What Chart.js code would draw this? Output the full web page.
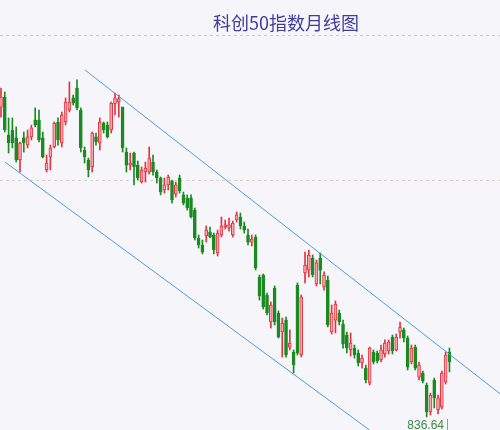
<!DOCTYPE html>
<html>
<head>
<meta charset="utf-8">
<script src="https://cdn.jsdelivr.net/npm/chart.js@4.4.1/dist/chart.umd.min.js"></script>
<style>
  html, body { margin: 0; padding: 0; background: #f5f5fa; }
  #wrap { width: 500px; height: 430px; position: relative; }
</style>
</head>
<body>
<div id="wrap"><canvas id="myChart"></canvas></div>
<script>
/* du lieu nen: gia mo, cao, thap, dong (theo thu tu phien) */
var title = "科创50指数月线图";

var openP = [
  1050.3, 1057.2, 1031.0, 1034.5, 1029.0, 1013.8, 1029.0, 1024.1, 1029.7, 1041.4,
  1041.4, 1029.0, 1006.9, 1015.9, 1022.8, 1040.0, 1025.5, 1040.0, 1048.3, 1056.6,
  1063.4, 1048.3, 1020.7, 1013.8, 1009.0, 1029.7, 1025.5, 1039.3, 1037.9, 1034.5,
  1052.4, 1053.8, 1050.3, 1019.3, 1010.3, 1018.6, 1010.3, 998.6, 1005.5, 1005.5,
  1012.4, 1005.5, 1001.4, 993.1, 996.6, 999.3, 990.3, 1001.4, 989.7, 987.6,
  987.6, 979.3, 960.0, 955.2, 961.4, 964.1, 962.1, 949.7, 962.1, 967.6,
  966.9, 962.1, 972.4, 974.5, 968.3, 962.1, 957.2, 960.7, 933.1, 934.5,
  920.7, 902.1, 925.5, 908.3, 895.2, 903.4, 884.8, 881.4, 927.6, 879.3,
  935.9, 937.9, 946.2, 928.3, 946.2, 926.2, 931.0, 895.2, 903.4, 908.3,
  900.7, 893.1, 882.8, 884.1, 880.7, 873.8, 870.3, 860.0, 881.4, 880.7,
  875.9, 880.0, 882.1, 891.7, 882.8, 895.2, 896.6, 891.0, 874.5, 884.8,
  864.1, 866.9, 858.6, 840.0, 862.1, 841.4, 843.4, 860.7, 881.4
];
var highP = [
  1063.4, 1060.7, 1042.8, 1042.8, 1036.6, 1026.2, 1033.1, 1034.5, 1037.9, 1049.7,
  1048.3, 1033.1, 1017.2, 1024.1, 1040.0, 1042.8, 1046.9, 1056.6, 1067.6, 1058.6,
  1069.0, 1049.7, 1022.8, 1015.2, 1033.1, 1032.4, 1042.8, 1040.0, 1040.0, 1053.8,
  1060.0, 1058.6, 1050.3, 1022.1, 1018.6, 1019.3, 1013.1, 1009.0, 1012.4, 1022.8,
  1017.2, 1006.9, 1002.1, 1001.4, 1003.4, 1000.0, 998.6, 1003.4, 991.7, 989.7,
  989.7, 980.7, 962.1, 958.6, 968.3, 967.6, 963.4, 965.5, 974.5, 972.4,
  973.8, 971.7, 977.9, 977.2, 971.0, 966.2, 962.1, 962.1, 934.5, 935.2,
  922.1, 915.9, 926.9, 909.7, 904.8, 905.5, 896.6, 882.8, 929.0, 920.7,
  950.3, 951.7, 948.3, 944.8, 949.7, 936.6, 933.8, 913.8, 916.6, 910.3,
  903.4, 895.2, 894.5, 886.2, 882.8, 879.3, 872.4, 884.8, 882.8, 882.1,
  886.2, 889.7, 889.7, 893.1, 893.8, 902.1, 897.9, 892.4, 886.2, 886.2,
  874.5, 868.3, 860.0, 853.1, 863.4, 851.7, 868.3, 881.4, 884.1
];
var lowP = [
  1043.4, 1033.1, 1018.6, 1022.1, 1012.4, 1005.5, 1019.3, 1022.1, 1027.6, 1036.6,
  1026.2, 1015.2, 1005.5, 1006.9, 1022.1, 1024.1, 1022.8, 1037.9, 1046.9, 1051.7,
  1048.3, 1019.3, 1011.7, 1002.1, 1005.5, 1024.1, 1020.7, 1032.4, 1029.0, 1032.4,
  1044.8, 1043.4, 1019.3, 1005.5, 1006.9, 996.6, 1000.0, 997.9, 998.6, 1004.1,
  1003.4, 997.9, 989.7, 991.0, 993.1, 984.1, 988.3, 991.0, 982.8, 979.3,
  973.8, 958.6, 953.1, 949.0, 957.2, 960.0, 949.0, 947.6, 960.7, 966.2,
  964.8, 960.7, 971.0, 966.2, 963.4, 955.2, 954.5, 937.9, 917.2, 911.0,
  906.9, 897.9, 900.0, 891.0, 877.9, 877.9, 882.8, 866.9, 879.3, 877.9,
  929.0, 933.1, 933.1, 926.9, 928.3, 924.1, 898.6, 893.8, 894.5, 900.0,
  884.1, 880.7, 878.6, 877.2, 871.7, 870.3, 860.0, 858.6, 873.1, 873.8,
  874.5, 877.9, 880.0, 880.0, 882.1, 891.0, 888.3, 869.0, 873.1, 869.0,
  862.1, 860.0, 836.64, 837.9, 842.8, 838.6, 842.1, 859.3, 867.6
];
var closeP = [
  1057.2, 1034.5, 1025.5, 1025.5, 1013.8, 1025.5, 1025.5, 1029.7, 1035.9, 1037.9,
  1027.6, 1015.9, 1011.7, 1022.1, 1039.3, 1027.6, 1044.8, 1053.8, 1053.8, 1053.1,
  1049.7, 1022.1, 1015.9, 1006.9, 1032.4, 1026.2, 1040.0, 1034.5, 1029.7, 1053.1,
  1056.6, 1055.9, 1022.1, 1010.3, 1011.7, 1009.0, 1001.4, 1006.9, 1008.3, 1015.2,
  1005.5, 1001.4, 991.7, 996.6, 1002.1, 986.2, 996.6, 992.4, 984.1, 980.7,
  974.5, 960.0, 955.2, 950.3, 965.5, 960.7, 951.7, 963.4, 968.3, 969.0,
  969.0, 970.3, 975.9, 968.3, 965.5, 957.2, 959.3, 939.3, 920.0, 912.4,
  908.3, 913.8, 902.1, 891.7, 901.4, 879.3, 887.6, 872.4, 880.7, 919.3,
  941.4, 948.3, 934.5, 942.8, 937.9, 934.5, 900.0, 908.3, 914.5, 902.1,
  886.9, 884.1, 887.6, 879.3, 873.8, 877.2, 862.1, 884.1, 874.5, 875.2,
  882.8, 887.6, 888.3, 882.1, 891.7, 898.6, 891.0, 871.0, 884.1, 870.3,
  872.4, 861.4, 840.0, 851.7, 849.7, 849.7, 866.9, 879.3, 874.5
];

/* kenh giam: diem dau va diem cuoi */
var upperX = [22.1, 131.3];
var upperY = [1075.9, 852.6];
var lowerX = [1.05, 99.7];
var lowerY = [1012.4, 822.3];

var gridLevels = [1000, 1100];

var upColor = "#e5323f";
var upFill = "#f5a9b0";
var downColor = "#1b8a22";

var bodies = [], wicks = [];
for (var i = 0; i < openP.length; i++) {
  bodies.push({x: i, y: [openP[i], closeP[i]]});
  wicks.push({x: i, y: [lowP[i], highP[i]]});
}
function isUp(i) { return closeP[i] >= openP[i]; }

var textPlugin = {
  id: 'texts',
  afterDraw: function(chart) {
    var ctx = chart.ctx;
    ctx.save();
    ctx.font = '18px "Noto Sans CJK SC"';
    ctx.fillStyle = "#3d3d9c";
    ctx.textAlign = "center";
    ctx.textBaseline = "middle";
    ctx.fillText(title, 286, 23);

    // nhan gia thap nhat
    var lo = Math.min.apply(null, lowP);
    var li = lowP.indexOf(lo);
    var px = chart.scales.x.getPixelForValue(li);
    var py = chart.scales.y.getPixelForValue(lo);
    ctx.font = '12px "Liberation Sans"';
    ctx.fillStyle = "#3a8c45";
    ctx.textBaseline = "top";
    ctx.fillText(lo.toFixed(2), px - 1, py + 3);
    ctx.strokeStyle = "#9a9a9a";
    ctx.lineWidth = 1;
    ctx.beginPath();
    ctx.moveTo(Math.round(px + 20) + 0.5, py + 2);
    ctx.lineTo(Math.round(px + 20) + 0.5, py + 14);
    ctx.stroke();
    ctx.restore();
  }
};

new Chart("myChart", {
  type: "bar",
  data: {
    datasets: [{
      data: bodies,
      grouped: false,
      barThickness: 3,
      minBarLength: 1,
      borderWidth: 1,
      borderSkipped: false,
      backgroundColor: function(c) { return isUp(c.dataIndex) ? upFill : downColor; },
      borderColor: function(c) { return isUp(c.dataIndex) ? upColor : downColor; },
      order: 1
    }, {
      data: wicks,
      grouped: false,
      barThickness: 1,
      borderWidth: 0,
      backgroundColor: function(c) { return isUp(c.dataIndex) ? upColor : downColor; },
      order: 2
    }, {
      type: "line",
      data: [{x: upperX[0], y: upperY[0]}, {x: upperX[1], y: upperY[1]}],
      borderColor: "#4f9be3",
      borderWidth: 1,
      pointRadius: 0,
      order: 0
    }, {
      type: "line",
      data: [{x: lowerX[0], y: lowerY[0]}, {x: lowerX[1], y: lowerY[1]}],
      borderColor: "#4f9be3",
      borderWidth: 1,
      pointRadius: 0,
      order: 0
    }]
  },
  options: {
    responsive: true,
    maintainAspectRatio: false,
    animation: false,
    layout: {padding: 0},
    plugins: {
      legend: {display: false},
      tooltip: {enabled: false}
    },
    scales: {
      x: {
        type: "linear",
        display: false,
        offset: false,
        min: -0.26,
        max: 131.3
      },
      y: {
        display: true,
        min: 827.59,
        max: 1124.14,
        afterBuildTicks: function(axis) {
          axis.ticks = gridLevels.map(function(v) { return {value: v}; });
        },
        ticks: {display: false},
        grid: {
          drawTicks: false,
          lineWidth: 1,
          color: function(c) { return c.tick && c.tick.value === 1100 ? "#c9c9de" : "#ddd2cf"; }
        },
        border: {display: false, dash: [3, 3]}
      }
    }
  },
  plugins: [textPlugin]
});
</script>
</body>
</html>
